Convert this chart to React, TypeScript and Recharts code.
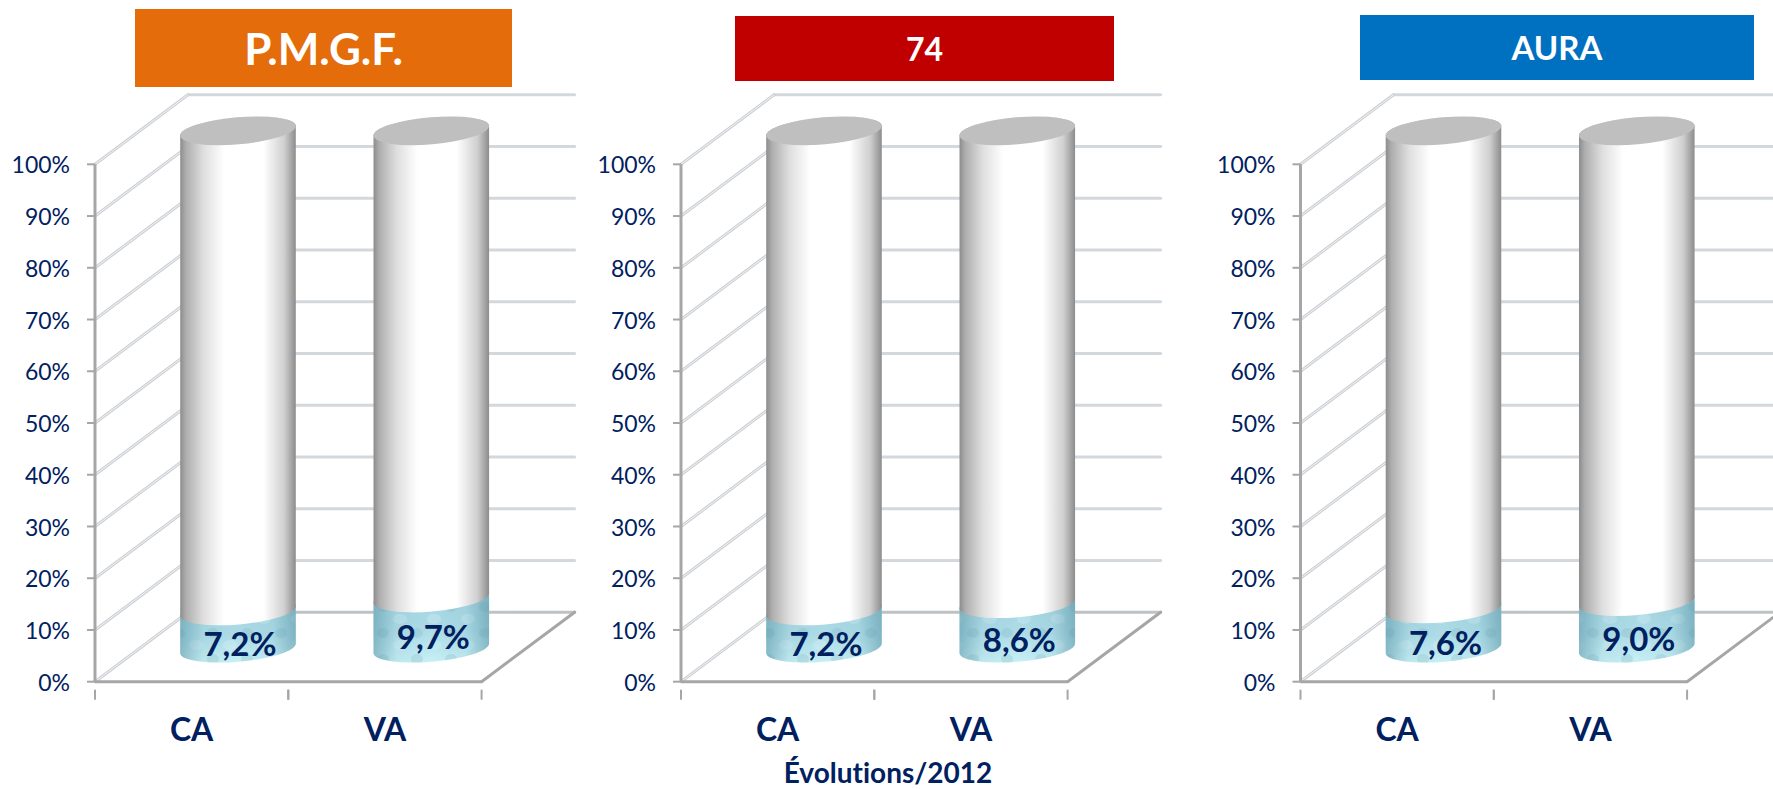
import React from "react";
import { BarChart, Bar, XAxis, YAxis, CartesianGrid, LabelList } from "recharts";

const categories = ["CA", "VA"];
const pmgfValues = [7.2, 9.7];
const dept74Values = [7.2, 8.6];
const auraValues = [7.6, 9.0];
const yTicks = [0, 10, 20, 30, 40, 50, 60, 70, 80, 90, 100];

const NAVY = "#002060";
const FONT = "Lato, 'Open Sans', sans-serif";

// fake 3D depth of the plot box
const DEPTH_X = 93;
const DEPTH_Y = -69.5;
const BAR_X = 46;
const BAR_Y = -33.5;
const RX = 58;
const RY = 13.5;
const TILT = -5;

const PLOT_W = 386.6;
const PLOT_H = 517.4;
const PLOT_TOP = 84.3;
const CHART_H = 700;

const tiltDx = RX * Math.cos((TILT * Math.PI) / 180);
const tiltDy = RX * Math.sin((TILT * Math.PI) / 180);

const buildRows = (values: number[]) =>
  categories.map((name, i) => ({ name, value: values[i], rest: 100 - values[i] }));

const Cylinder = ({ x, y, width, height, fills, cap }: any) => {
  const cx = x + width / 2 + BAR_X;
  const top = y + BAR_Y;
  const bottom = y + height + BAR_Y;
  const side =
    `M${cx - tiltDx},${top - tiltDy} L${cx - tiltDx},${bottom - tiltDy} ` +
    `A${RX},${RY} ${TILT} 0 0 ${cx + tiltDx},${bottom + tiltDy} ` +
    `L${cx + tiltDx},${top + tiltDy} A${RX},${RY} ${TILT} 0 0 ${cx - tiltDx},${top - tiltDy} Z`;
  return (
    <g>
      {fills.map((f: string) => (
        <path key={f} d={side} fill={f} />
      ))}
      {cap && (
        <ellipse
          cx={cx}
          cy={top}
          rx={RX}
          ry={RY}
          fill="#bfbfbf"
          transform={`rotate(${TILT} ${cx} ${top})`}
        />
      )}
    </g>
  );
};

const WhiteBar = (props: any) => <Cylinder {...props} fills={["url(#whiteCyl)"]} cap />;
const TealBar = (props: any) => (
  <Cylinder {...props} fills={["url(#tealCyl)", "url(#bubbles)", "url(#tealShade)"]} />
);

const ValueLabel = ({ x, y, width, height, value }: any) => (
  <text
    x={x + width / 2 + BAR_X + 2}
    y={y + height / 2 + BAR_Y + 13}
    textAnchor="middle"
    dominantBaseline="central"
    fontFamily={FONT}
    fontWeight={700}
    fontSize={33}
    fill={NAVY}
  >
    {String(Number(value).toFixed(1)).replace(".", ",") + "%"}
  </text>
);

const GridLine = ({ x1, x2, y1, index }: any) => {
  const isFloor = y1 > PLOT_TOP + PLOT_H - 1;
  const backY = y1 + DEPTH_Y;
  return (
    <g key={index} fill="none" strokeLinecap="round">
      <line x1={x2 + DEPTH_X} y1={backY} x2={x1 + DEPTH_X} y2={backY}
        stroke={isFloor ? "#bfc2c5" : "#d3d8dd"} strokeWidth={3} />
      {isFloor && (
        <line x1={x2} y1={y1} x2={x2 + DEPTH_X} y2={backY} stroke="#a6a6a6" strokeWidth={3} />
      )}
      <line x1={x1} y1={y1} x2={x1 + DEPTH_X} y2={backY} stroke="#ccd0d5" strokeWidth={3} />
      <line x1={x1} y1={y1} x2={x1 + DEPTH_X} y2={backY} stroke="#f2f3f5" strokeWidth={1} />
    </g>
  );
};

const CategoryTick = ({ x, y, payload }: any) => {
  const half = PLOT_W / 4;
  return (
    <g>
      <line x1={x - half} y1={y} x2={x - half} y2={y + 10} stroke="#a6a6a6" strokeWidth={2} />
      <line x1={x + half} y1={y} x2={x + half} y2={y + 10} stroke="#a6a6a6" strokeWidth={2} />
      <text
        x={x}
        y={y + 48}
        dy={-9}
        textAnchor="middle"
        dominantBaseline="central"
        fontFamily={FONT}
        fontWeight={700}
        fontSize={32}
        fill={NAVY}
      >
        {payload.value}
      </text>
    </g>
  );
};

const Defs = () => (
  <defs>
    <linearGradient id="whiteCyl" x1="0" x2="1" y1="0" y2="0">
      <stop offset="0" stopColor="#8c8c8c" />
      <stop offset="0.05" stopColor="#aeaeae" />
      <stop offset="0.2" stopColor="#dedede" />
      <stop offset="0.38" stopColor="#ffffff" />
      <stop offset="0.72" stopColor="#ffffff" />
      <stop offset="0.9" stopColor="#cfcfcf" />
      <stop offset="1" stopColor="#8c8c8c" />
    </linearGradient>
    <linearGradient id="tealCyl" x1="0" x2="0" y1="0" y2="1">
      <stop offset="0" stopColor="#a2d2de" />
      <stop offset="0.6" stopColor="#aedde8" />
      <stop offset="1" stopColor="#c8f0f6" />
    </linearGradient>
    <linearGradient id="tealShade" x1="0" x2="1" y1="0" y2="0">
      <stop offset="0" stopColor="#4f8a9c" stopOpacity="0.5" />
      <stop offset="0.2" stopColor="#4f8a9c" stopOpacity="0.08" />
      <stop offset="0.5" stopColor="#4f8a9c" stopOpacity="0" />
      <stop offset="0.8" stopColor="#4f8a9c" stopOpacity="0.08" />
      <stop offset="1" stopColor="#4f8a9c" stopOpacity="0.5" />
    </linearGradient>
    <pattern id="bubbles" width="34" height="26" patternUnits="userSpaceOnUse">
      <ellipse cx="9" cy="7" rx="6" ry="5" fill="#6fa6b6" fillOpacity="0.2" />
      <ellipse cx="26" cy="19" rx="7" ry="5" fill="#e6f8fb" fillOpacity="0.25" />
    </pattern>
  </defs>
);

const Panel = ({ left, axisX, values }: any) => {
  const yAxisW = axisX - left;
  const width = yAxisW + PLOT_W + 120;
  const xAxisH = CHART_H - PLOT_TOP - PLOT_H;
  return (
    <div style={{ position: "absolute", left, top: 80 }}>
      <BarChart
        width={width}
        height={CHART_H}
        data={buildRows(values)}
        margin={{ top: PLOT_TOP, left: 0, right: 120, bottom: 0 }}
        barSize={114}
        barCategoryGap={0}
      >
        <Defs />
        <CartesianGrid vertical={false} horizontal={GridLine as any} />
        <XAxis
          dataKey="name"
          axisLine={{ stroke: "#a6a6a6", strokeWidth: 3 }}
          tickLine={false}
          tick={CategoryTick as any}
          interval={0}
          height={xAxisH}
        />
        <YAxis
          width={yAxisW}
          domain={[0, 100]}
          ticks={yTicks}
          interval={0}
          tickFormatter={(v: number) => v + "%"}
          axisLine={{ stroke: "#a6a6a6", strokeWidth: 3 }}
          tickLine={{ stroke: "#a6a6a6", strokeWidth: 2 }}
          tickSize={8}
          tickMargin={17}
          tick={{ fontFamily: FONT, fontSize: 23, fill: NAVY, dy: 1 }}
        />
        <Bar dataKey="value" stackId="a" shape={TealBar as any} isAnimationActive={false}>
          <LabelList dataKey="value" content={ValueLabel as any} />
        </Bar>
        <Bar dataKey="rest" stackId="a" shape={WhiteBar as any} isAnimationActive={false} />
      </BarChart>
    </div>
  );
};

const Header = ({ left, top, width, height, color, size, text }: any) => (
  <div
    style={{
      position: "absolute",
      left,
      top,
      width,
      height,
      background: color,
      color: "#fff",
      fontFamily: FONT,
      fontWeight: 700,
      fontSize: size,
      lineHeight: height + "px",
      textAlign: "center",
    }}
  >
    {text}
  </div>
);

export default function App() {
  return (
    <div
      style={{
        position: "absolute",
        left: 0,
        top: 0,
        width: 1773,
        height: 789,
        overflow: "hidden",
        background: "#fff",
      }}
    >
      <Panel left={0} axisX={95} values={pmgfValues} />
      <Panel left={590} axisX={681} values={dept74Values} />
      <Panel left={1210} axisX={1300.5} values={auraValues} />
      <Header left={135} top={9} width={377} height={78} color="#e46c0a" size={44} text="P.M.G.F." />
      <Header left={735} top={16} width={379} height={65} color="#c00000" size={32} text="74" />
      <Header left={1360} top={15} width={394} height={65} color="#0070c0" size={33} text="AURA" />
      <div
        style={{
          position: "absolute",
          left: 688,
          top: 755,
          width: 400,
          textAlign: "center",
          fontFamily: FONT,
          fontWeight: 700,
          fontSize: 28,
          lineHeight: "34px",
          fontVariantLigatures: "none",
          color: NAVY,
        }}
      >
        Évolutions/2012
      </div>
    </div>
  );
}
